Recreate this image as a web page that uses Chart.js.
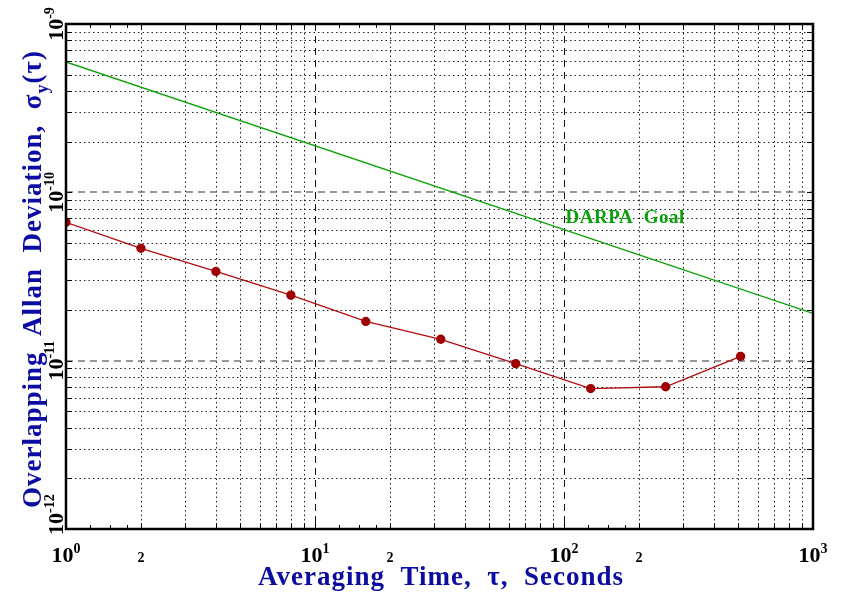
<!DOCTYPE html>
<html>
<head>
<meta charset="UTF-8">
<title>Overlapping Allan Deviation</title>
<script src="https://cdn.jsdelivr.net/npm/chart.js"></script>
<style>
  html, body { margin: 0; padding: 0; background: #fff; }
  canvas { display: block; }
</style>
</head>
<body>
<canvas id="adev" width="844" height="599"></canvas>
<script>
  // measured points (tau in s, overlapping ADEV)
  const tauVals = [1, 2, 4, 8, 16, 32, 64, 128, 256, 512];
  const adevVals = [6.64e-11, 4.65e-11, 3.39e-11, 2.45e-11, 1.71e-11, 1.34e-11, 9.6e-12, 6.83e-12, 7.0e-12, 1.06e-11];
  // DARPA goal line
  const goalTau = [1, 1000];
  const goalVals = [5.95e-10, 1.91e-11];

  const xTickVals = [1, 2, 10, 20, 100, 200, 1000];
  const xTickText = [["10", "0"], ["2", ""], ["10", "1"], ["2", ""], ["10", "2"], ["2", ""], ["10", "3"]];
  const yTickVals = [1e-9, 1e-10, 1e-11, 1e-12];
  const yTickText = [["10", "-9"], ["10", "-10"], ["10", "-11"], ["10", "-12"]];

  const xTitle = "Averaging  Time,  \u03c4,  Seconds";
  const yTitle = "Overlapping  Allan  Deviation,  ";
  const goalLabel = "DARPA  Goal";

  const SERIF = "'Liberation Serif', 'DejaVu Serif', serif";
  const BLUE = "#0c0ca2";
  const GREEN = "#0aa00a";
  const RED = "#b40c0c";

  function decadeSteps(min, max) {
    const out = [];
    for (let e = Math.round(Math.log10(min)); e < Math.round(Math.log10(max)); e++) {
      for (let m = 2; m <= 9; m++) out.push(m * Math.pow(10, e));
    }
    return out;
  }
  function subSteps(min, max) {
    const out = [];
    for (let e = Math.round(Math.log10(min)); e < Math.round(Math.log10(max)); e++) {
      [1.25, 1.5, 1.75].forEach(m => out.push(m * Math.pow(10, e)));
    }
    return out;
  }
  function majors(min, max) {
    const out = [];
    for (let e = Math.round(Math.log10(min)) + 1; e < Math.round(Math.log10(max)); e++) out.push(Math.pow(10, e));
    return out;
  }

  const gridPlugin = {
    id: 'gridPlugin',
    beforeDatasetsDraw(chart) {
      const { ctx, chartArea: a, scales: { x, y } } = chart;
      ctx.save();
      ctx.lineWidth = 1;
      // minor dotted
      ctx.strokeStyle = "#222";
      ctx.setLineDash([1.5, 3]);
      decadeSteps(x.min, x.max).forEach(v => {
        const px = Math.round(x.getPixelForValue(v)) + 0.5;
        ctx.beginPath(); ctx.moveTo(px, a.top); ctx.lineTo(px, a.bottom); ctx.stroke();
      });
      decadeSteps(y.min, y.max).forEach(v => {
        const py = Math.round(y.getPixelForValue(v)) + 0.5;
        ctx.beginPath(); ctx.moveTo(a.left, py); ctx.lineTo(a.right, py); ctx.stroke();
      });
      // major dashed
      ctx.setLineDash([7, 5]);
      ctx.strokeStyle = "#111";
      majors(x.min, x.max).forEach(v => {
        const px = Math.round(x.getPixelForValue(v)) + 0.5;
        ctx.beginPath(); ctx.moveTo(px, a.top); ctx.lineTo(px, a.bottom); ctx.stroke();
      });
      ctx.strokeStyle = "#777";
      ctx.lineWidth = 1.6;
      majors(y.min, y.max).forEach(v => {
        const py = Math.round(y.getPixelForValue(v));
        ctx.beginPath(); ctx.moveTo(a.left, py); ctx.lineTo(a.right, py); ctx.stroke();
      });
      ctx.restore();
    },
    afterDraw(chart) {
      const { ctx, chartArea: a, scales: { x, y } } = chart;
      ctx.save();
      // ticks
      ctx.strokeStyle = "#000";
      ctx.lineWidth = 1;
      decadeSteps(x.min, x.max).concat(majors(x.min, x.max)).forEach(v => {
        const px = Math.round(x.getPixelForValue(v)) + 0.5;
        ctx.beginPath(); ctx.moveTo(px, a.bottom); ctx.lineTo(px, a.bottom - 6); ctx.stroke();
        ctx.beginPath(); ctx.moveTo(px, a.top); ctx.lineTo(px, a.top + 6); ctx.stroke();
      });
      subSteps(x.min, x.max).forEach(v => {
        const px = Math.round(x.getPixelForValue(v)) + 0.5;
        ctx.beginPath(); ctx.moveTo(px, a.bottom); ctx.lineTo(px, a.bottom - 4); ctx.stroke();
        ctx.beginPath(); ctx.moveTo(px, a.top); ctx.lineTo(px, a.top + 4); ctx.stroke();
      });
      decadeSteps(y.min, y.max).concat(majors(y.min, y.max)).forEach(v => {
        const py = Math.round(y.getPixelForValue(v)) + 0.5;
        ctx.beginPath(); ctx.moveTo(a.left, py); ctx.lineTo(a.left + 6, py); ctx.stroke();
        ctx.beginPath(); ctx.moveTo(a.right, py); ctx.lineTo(a.right - 6, py); ctx.stroke();
      });
      // frame
      ctx.lineWidth = 2.5;
      ctx.strokeRect(a.left, a.top, a.right - a.left, a.bottom - a.top);

      // x tick labels
      ctx.fillStyle = "#000";
      ctx.textBaseline = "alphabetic";
      ctx.textAlign = "left";
      xTickVals.forEach((v, i) => {
        const px = x.getPixelForValue(v);
        const [base, sup] = xTickText[i];
        if (sup === "") {
          ctx.font = "bold 14px " + SERIF;
          const w = ctx.measureText(base).width;
          ctx.fillText(base, px - w / 2, 562);
        } else {
          ctx.font = "bold 22px " + SERIF;
          const w1 = ctx.measureText(base).width;
          ctx.font = "bold 14px " + SERIF;
          const w2 = ctx.measureText(sup).width;
          const sx = px - (w1 + w2) / 2;
          ctx.font = "bold 22px " + SERIF;
          ctx.fillText(base, sx, 562);
          ctx.font = "bold 14px " + SERIF;
          ctx.fillText(sup, sx + w1, 553);
        }
      });

      // y tick labels (rotated)
      yTickVals.forEach((v, i) => {
        const py = y.getPixelForValue(v);
        const [base, sup] = yTickText[i];
        ctx.font = "bold 22px " + SERIF;
        const w1 = ctx.measureText(base).width;
        ctx.font = "bold 14px " + SERIF;
        const w2 = ctx.measureText(sup).width;
        let c = py;
        if (c + (w1 + w2) / 2 > a.bottom + 6) c = a.bottom + 6 - (w1 + w2) / 2;
        ctx.save();
        ctx.translate(63, c);
        ctx.rotate(-Math.PI / 2);
        const sx = -(w1 + w2) / 2;
        ctx.font = "bold 22px " + SERIF;
        ctx.fillText(base, sx, 0);
        ctx.font = "bold 14px " + SERIF;
        ctx.fillText(sup, sx + w1, -9);
        ctx.restore();
      });

      // x title
      ctx.fillStyle = BLUE;
      ctx.letterSpacing = "1px";
      ctx.font = "bold 27px " + SERIF;
      ctx.textAlign = "center";
      ctx.fillText(xTitle, 441, 585);

      // y title with sigma_y(tau)
      ctx.textAlign = "left";
      ctx.font = "bold 27px " + SERIF;
      const tw1 = ctx.measureText(yTitle).width;
      const tw2 = ctx.measureText("\u03c3").width;
      ctx.font = "bold 18px " + SERIF;
      const tw3 = ctx.measureText("y").width;
      ctx.font = "bold 27px " + SERIF;
      const tw4 = ctx.measureText("(\u03c4)").width;
      const total = tw1 + tw2 + tw3 + tw4;
      ctx.save();
      ctx.translate(41, 279);
      ctx.rotate(-Math.PI / 2);
      let sx = -total / 2;
      ctx.fillText(yTitle, sx, 0); sx += tw1;
      ctx.fillText("\u03c3", sx, 0); sx += tw2;
      ctx.font = "bold 18px " + SERIF;
      ctx.fillText("y", sx, 7); sx += tw3;
      ctx.font = "bold 27px " + SERIF;
      ctx.fillText("(\u03c4)", sx, 0);
      ctx.restore();

      // goal label
      ctx.fillStyle = GREEN;
      ctx.letterSpacing = "0.5px";
      ctx.font = "bold 19px " + SERIF;
      ctx.textAlign = "center";
      ctx.fillText(goalLabel, x.getPixelForValue(176), y.getPixelForValue(6.6e-11));
      ctx.restore();
    }
  };

  new Chart(document.getElementById("adev"), {
    type: "line",
    data: {
      datasets: [
        {
          label: "ADEV",
          data: tauVals.map((t, i) => ({ x: t, y: adevVals[i] })),
          borderColor: RED,
          backgroundColor: "#a00000",
          pointBackgroundColor: "#a00000",
          pointBorderColor: "#a00000",
          borderWidth: 1.3,
          pointRadius: 4,
          tension: 0
        },
        {
          label: goalLabel,
          data: goalTau.map((t, i) => ({ x: t, y: goalVals[i] })),
          borderColor: GREEN,
          borderWidth: 1.3,
          pointRadius: 0,
          tension: 0
        }
      ]
    },
    options: {
      responsive: false,
      animation: false,
      layout: { padding: { left: 66, right: 31, top: 24, bottom: 70 } },
      plugins: { legend: { display: false }, tooltip: { enabled: false } },
      scales: {
        x: { type: "logarithmic", min: 1, max: 1000, display: false },
        y: { type: "logarithmic", min: 1e-12, max: 1e-9, display: false }
      }
    },
    plugins: [gridPlugin]
  });
</script>
</body>
</html>
